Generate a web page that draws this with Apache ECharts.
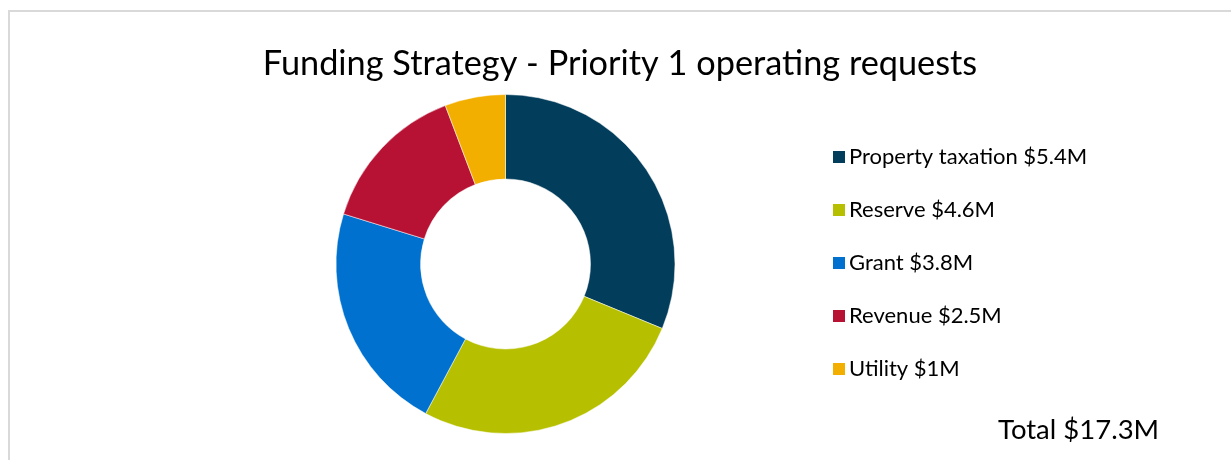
<!DOCTYPE html>
<html>
<head>
<meta charset="utf-8">
<script src="https://cdn.jsdelivr.net/npm/echarts@6/dist/echarts.min.js"></script>
<style>
  html, body { margin: 0; padding: 0; background: #fff; }
  #chart { width: 1231px; height: 460px; }
</style>
</head>
<body>
<div id="chart"></div>
<script>
// Funding sources for priority 1 operating requests ($M)
const sources = ['Property taxation', 'Reserve', 'Grant', 'Revenue', 'Utility'];
const amounts = [5.4, 4.6, 3.8, 2.5, 1];
const sourceColors = ['#023D5B', '#B6C000', '#0071CE', '#B71234', '#F2AF00'];
const totalLabel = 'Total $17.3M';

const fmt = v => '$' + v + 'M';
const pieData = sources.map((name, i) => ({
  name: name,
  value: amounts[i],
  itemStyle: { color: sourceColors[i] }
}));

const chart = echarts.init(document.getElementById('chart'), null, { renderer: 'canvas' });
const FONT = 'Lato, "Open Sans", sans-serif';

chart.setOption({
  animation: false,
  title: {
    text: 'Funding Strategy - Priority 1 operating requests',
    left: 615,
    textAlign: 'center',
    top: 42,
    textStyle: { fontFamily: FONT, fontSize: 34.3, fontWeight: 'normal', color: '#000' }
  },
  legend: {
    orient: 'vertical',
    left: 831,
    top: 146,
    padding: 0,
    itemWidth: 14,
    itemHeight: 14,
    itemGap: 31,
    icon: 'rect',
    formatter: name => name + ' ' + fmt(amounts[sources.indexOf(name)]),
    textStyle: { fontFamily: FONT, fontSize: 22, color: '#000', padding: [0, 0, 0, -2] }
  },
  graphic: [
    {
      type: 'rect',
      shape: { x: 9, y: 11, width: 1400, height: 800 },
      style: { fill: 'none', stroke: '#d9d9d9', lineWidth: 2 },
      silent: true
    },
    {
      type: 'text',
      left: 998,
      top: 416,
      style: { text: totalLabel, font: '27.5px ' + FONT, fill: '#000' }
    }
  ],
  series: [{
    type: 'pie',
    center: [505.5, 264],
    radius: [85, 169.5],
    startAngle: 90,
    clockwise: true,
    label: { show: false },
    labelLine: { show: false },
    itemStyle: { borderColor: '#fff', borderWidth: 0.5 },
    emphasis: { disabled: true },
    data: pieData
  }]
});
</script>
</body>
</html>
